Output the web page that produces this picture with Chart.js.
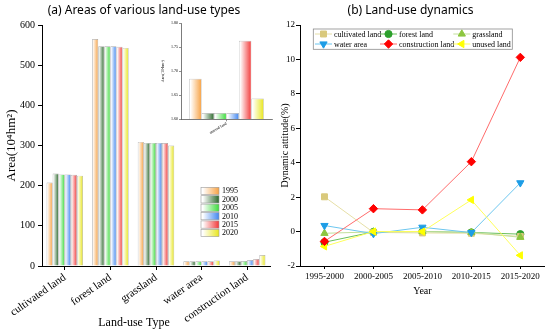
<!DOCTYPE html>
<html>
<head>
<meta charset="utf-8">
<script src="https://cdn.jsdelivr.net/npm/chart.js@4.4.1/dist/chart.umd.min.js"></script>
<style>
    html, body { margin: 0; padding: 0; background: #fff; }
    #wrap { position: relative; width: 550px; height: 334px; overflow: hidden; }
    canvas { position: absolute; top: 0; }
    #areaChart { left: 0; }
    #dynChart { left: 276px; }
    #unusedChart { left: 155px; top: 12px; }
</style>
</head>
<body>
<div id="wrap">
    <canvas id="areaChart" width="288" height="334"></canvas>
    <canvas id="dynChart" width="274" height="334"></canvas>
    <canvas id="unusedChart" width="122" height="130"></canvas>
</div>
<script>
// panel (a) - areas in 10^4 hm2
const landTypes = ['cultivated land', 'forest land', 'grassland', 'water area', 'construction land'];
const years = ['1995', '2000', '2005', '2010', '2015', '2020'];
const area1995 = [208, 565, 309, 12, 11.7];
const area2000 = [230, 547, 306.5, 12, 12];
const area2005 = [228, 547, 306.5, 12, 12.5];
const area2010 = [228, 547, 306.5, 12, 15];
const area2015 = [227, 546, 306, 12, 17.5];
const area2020 = [225, 543, 300, 14, 27.5];
const areaTicks = { min: 0, max: 600, step: 100 };

// inset - unused land
const unusedLabel = ['unused land'];
const unusedArea = [1.684, 1.613, 1.613, 1.613, 1.763, 1.643];
const unusedTicks = { min: 1.6, max: 1.8, step: 0.05 };

// panel (b) - dynamic attitude (%)
const periods = ['1995-2000', '2000-2005', '2005-2010', '2010-2015', '2015-2020'];
const cultivatedDyn = [2.02, -0.05, -0.08, -0.1, -0.28];
const forestDyn = [-0.62, -0.02, 0.0, -0.05, -0.15];
const grassDyn = [-0.1, -0.02, 0.0, -0.05, -0.33];
const waterDyn = [0.35, -0.12, 0.25, -0.06, 2.83];
const constructionDyn = [-0.57, 1.33, 1.26, 4.06, 10.12];
const unusedDyn = [-0.86, 0.0, 0.0, 1.84, -1.38];
const dynTicks = { min: -2, max: 12, step: 2 };

const serif = '"Liberation Serif", "Times New Roman", serif';
Chart.defaults.font.family = serif;
Chart.defaults.color = '#000';

const yearColors = ['#f7a244', '#2d6a2d', '#3ddc3d', '#4287f0', '#f23a3a', '#e8e61c'];

function fade(ctx, x0, x1, color) {
    const g = ctx.createLinearGradient(x0, 0, x1, 0);
    g.addColorStop(0, '#ffffff');
    g.addColorStop(0.1, '#ffffff');
    g.addColorStop(1, color);
    return g;
}

// each bar gets its own white -> colour gradient
const barFade = {
    id: 'barFade',
    beforeDatasetsDraw(chart) {
        chart.data.datasets.forEach((ds, i) => {
            chart.getDatasetMeta(i).data.forEach(bar => {
                bar.options.backgroundColor = fade(chart.ctx, bar.x - bar.width / 2, bar.x + bar.width / 2, yearColors[i]);
            });
        });
    }
};

const yearLegend = {
    id: 'yearLegend',
    afterDraw(chart) {
        const ctx = chart.ctx;
        const x = 201, y0 = 187.3;
        ctx.save();
        ctx.font = '8px ' + serif;
        ctx.textBaseline = 'middle';
        years.forEach((y, i) => {
            const top = y0 + i * 8.4;
            ctx.fillStyle = fade(ctx, x, x + 18, yearColors[i]);
            ctx.fillRect(x, top, 18, 7.3);
            ctx.strokeStyle = '#9a9a9a';
            ctx.lineWidth = 0.6;
            ctx.strokeRect(x, top, 18, 7.3);
            ctx.fillStyle = '#000';
            ctx.fillText(y, x + 21, top + 4);
        });
        ctx.restore();
    }
};

// x axis title sits left of the axis centre in the original
const landTitle = {
    id: 'landTitle',
    afterDraw(chart) {
        const { ctx, chartArea } = chart;
        ctx.save();
        ctx.font = '12px ' + serif;
        ctx.fillStyle = '#000';
        ctx.textAlign = 'center';
        ctx.textBaseline = 'middle';
        ctx.fillText('Land-use Type', chartArea.left + 92, 323);
        ctx.restore();
    }
};

const areaSeries = [area1995, area2000, area2005, area2010, area2015, area2020];

new Chart(document.getElementById('areaChart'), {
    type: 'bar',
    data: {
        labels: landTypes,
        datasets: years.map((y, i) => ({
            label: y,
            data: areaSeries[i],
            backgroundColor: () => yearColors[i],
            borderColor: '#a8a8a8',
            borderWidth: 0.7,
            categoryPercentage: 0.8,
            barPercentage: 1
        }))
    },
    options: {
        responsive: false,
        animation: false,
        layout: { padding: { left: 0, right: 0, top: 0, bottom: 4 } },
        plugins: {
            legend: { display: false },
            tooltip: { enabled: false },
            title: {
                display: true,
                text: '(a) Areas of various land-use types',
                font: { family: '"Noto Sans"', size: 12, weight: 'normal' },
                color: '#000',
                padding: { top: 3, bottom: 7.6 }
            }
        },
        scales: {
            x: {
                grid: { drawOnChartArea: false, offset: false, tickLength: 4, color: '#000' },
                border: { color: '#000', width: 1 },
                ticks: { font: { size: 11 }, minRotation: 35, maxRotation: 35, padding: 1 },
                afterFit(s) { s.height = 64; }
            },
            y: {
                min: areaTicks.min,
                max: areaTicks.max,
                ticks: { stepSize: areaTicks.step, font: { size: 10 }, padding: 3 },
                grid: { drawOnChartArea: false, tickLength: 4, color: '#000' },
                border: { color: '#000', width: 1 },
                title: { display: true, text: 'Area(10⁴hm²)', font: { size: 13 }, padding: { top: 4 } },
                afterFit(s) { s.width = 42; }
            },
            // empty right margin, keeps the panel title centred on the whole panel
            y2: {
                type: 'linear',
                position: 'right',
                ticks: { display: false },
                grid: { display: false },
                border: { display: false },
                afterFit(s) { s.width = 18; }
            }
        }
    },
    plugins: [barFade, yearLegend, landTitle]
});

new Chart(document.getElementById('unusedChart'), {
    type: 'bar',
    data: {
        labels: unusedLabel,
        datasets: years.map((y, i) => ({
            label: y,
            data: [unusedArea[i]],
            base: unusedTicks.min,
            backgroundColor: () => yearColors[i],
            borderColor: '#b0b0b0',
            borderWidth: 0.6,
            categoryPercentage: 0.82,
            barPercentage: 1
        }))
    },
    options: {
        responsive: false,
        animation: false,
        layout: { padding: { left: 0, right: 5, top: 11, bottom: 0 } },
        plugins: { legend: { display: false }, tooltip: { enabled: false } },
        scales: {
            x: {
                grid: { drawOnChartArea: false, offset: false, tickLength: 2, color: '#444', lineWidth: 0.6 },
                border: { color: '#444', width: 0.7 },
                ticks: { font: { size: 4 }, minRotation: 30, maxRotation: 30, padding: 0 },
                afterFit(s) { s.height = 22.7; }
            },
            y: {
                min: unusedTicks.min,
                max: unusedTicks.max,
                ticks: { stepSize: unusedTicks.step, autoSkip: false, font: { size: 4 }, padding: 1, callback: v => v.toFixed(2) },
                grid: { drawOnChartArea: false, tickLength: 2, color: '#444', lineWidth: 0.6 },
                border: { color: '#444', width: 0.7 },
                title: { display: true, text: 'Area(10⁴hm²)', font: { size: 4 }, padding: { top: 6 } },
                afterFit(s) { s.width = 26; }
            }
        }
    },
    plugins: [barFade]
});

const dynLegend = {
    id: 'dynLegend',
    afterDraw(chart) {
        const { ctx, chartArea } = chart;
        const left = chartArea.left + 13.3, top = chartArea.top + 4;
        const cols = [1.7, 66.7, 140];
        ctx.save();
        ctx.strokeStyle = '#8c8c8c';
        ctx.lineWidth = 0.8;
        ctx.strokeRect(left, top, 199, 20.3);
        ctx.font = '8px ' + serif;
        ctx.textBaseline = 'middle';
        chart.data.datasets.forEach((ds, i) => {
            const cx = left + cols[i % 3];
            const cy = top + 5 + Math.floor(i / 3) * 10;
            ctx.strokeStyle = ds.borderColor;
            ctx.lineWidth = 1;
            ctx.beginPath();
            ctx.moveTo(cx, cy);
            ctx.lineTo(cx + 17, cy);
            ctx.stroke();
            ctx.fillStyle = ds.pointBackgroundColor;
            ctx.strokeStyle = ds.pointBorderColor;
            Chart.helpers.drawPoint(ctx, {
                pointStyle: ds.pointStyle, rotation: ds.pointRotation,
                radius: ds.pointRadius, borderWidth: 1
            }, cx + 8.5, cy);
            ctx.fillStyle = '#000';
            ctx.fillText(ds.label, cx + 19, cy + 0.5);
        });
        ctx.restore();
    }
};

function dynSet(label, data, line, mark, style, rot, r, order) {
    return {
        label, data, order,
        borderColor: line, borderWidth: 1,
        pointBackgroundColor: mark, pointBorderColor: mark,
        pointStyle: style, pointRotation: rot, pointRadius: r, pointBorderWidth: 1
    };
}

new Chart(document.getElementById('dynChart'), {
    type: 'line',
    data: {
        labels: periods,
        datasets: [
            dynSet('cultivated land', cultivatedDyn, '#e6dfa6', '#d9c97c', 'rect', 0, 4.2, 5),
            dynSet('forest land', forestDyn, '#6abf5a', '#2ca02c', 'circle', 0, 3.6, 6),
            dynSet('grassland', grassDyn, '#c2df9a', '#8cc63f', 'triangle', 0, 4.2, 4),
            dynSet('water area', waterDyn, '#6cc6ef', '#1d9de6', 'triangle', 180, 4.2, 3),
            dynSet('construction land', constructionDyn, '#ff6b6b', '#ff0000', 'rectRot', 0, 4.2, 1),
            dynSet('unused land', unusedDyn, '#ffff5a', '#ffff00', 'triangle', 270, 4.2, 2)
        ]
    },
    options: {
        responsive: false,
        animation: false,
        layout: { padding: { left: 0, right: 5, top: 0, bottom: 37 } },
        plugins: {
            legend: { display: false },
            tooltip: { enabled: false },
            title: {
                display: true,
                text: '(b) Land-use dynamics',
                font: { family: '"Noto Sans"', size: 12, weight: 'normal' },
                color: '#000',
                padding: { top: 3, bottom: 7.6 }
            }
        },
        scales: {
            x: {
                offset: true,
                grid: { drawOnChartArea: false, tickLength: 3, color: '#000' },
                border: { color: '#000', width: 1 },
                ticks: { font: { size: 9 }, maxRotation: 0, autoSkip: false, padding: 2 },
                title: { display: true, text: 'Year', font: { size: 10 }, padding: 0 },
                afterFit(s) { s.height = 31; }
            },
            y: {
                min: dynTicks.min,
                max: dynTicks.max,
                ticks: { stepSize: dynTicks.step, font: { size: 9 }, padding: 1 },
                grid: { drawOnChartArea: false, tickLength: 4, color: '#000' },
                border: { color: '#000', width: 1 },
                title: { display: true, text: 'Dynamic attitude(%)', font: { size: 10 }, padding: { top: 3 } },
                afterFit(s) { s.width = 24; }
            }
        }
    },
    plugins: [dynLegend]
});
</script>
</body>
</html>
